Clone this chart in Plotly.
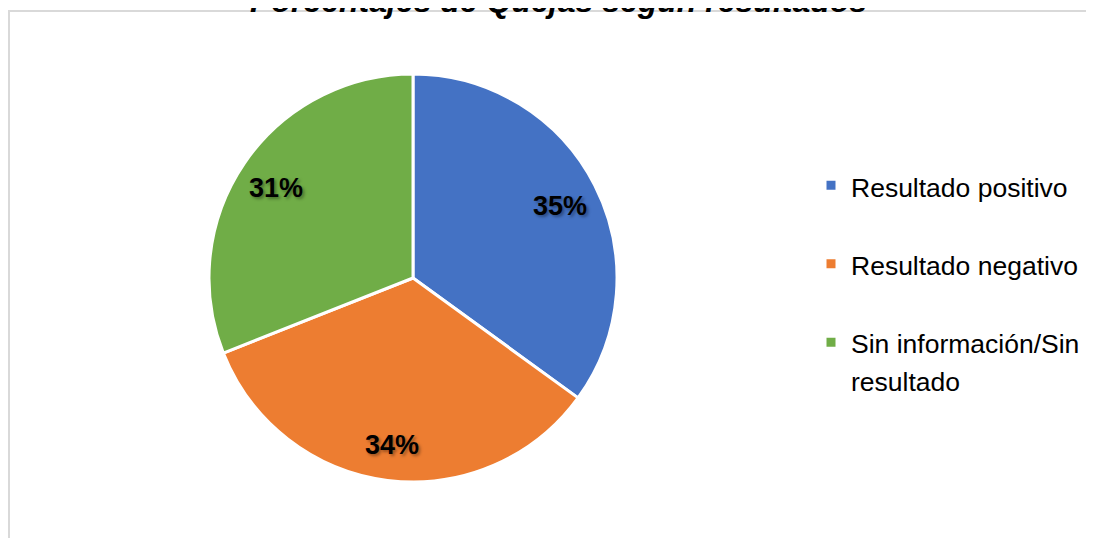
import math
import plotly.graph_objects as go

labels = ["Resultado positivo", "Resultado negativo", "Sin información/Sin<br>resultado"]
values = [35, 34, 31]
colors = ["#4472C4", "#ED7D31", "#70AD47"]
title = "Porcentajes de Quejas según resultados"

W, H = 1094, 538
cx, cy, r = 405, 270, 204   # pie centre/radius in figure pixels
font = "Liberation Sans, Arial"

# pad legend entries so the items sit further apart, like the original
legend_labels = []
for i, t in enumerate(labels):
    t = "<span style='font-size:26.5px'>" + t.replace("<br>", "</span><br><span style='font-size:26.5px'>") + "</span>"
    if i < len(labels) - 1:
        t += "<br> "
    legend_labels.append(t)

fig = go.Figure()
fig.add_trace(go.Pie(
    labels=legend_labels,
    values=values,
    sort=False,
    direction="clockwise",
    rotation=0,
    marker=dict(colors=colors, line=dict(color="white", width=3)),
    textinfo="none",
    domain=dict(x=[(cx - r) / W, (cx + r) / W], y=[1 - (cy + r) / H, 1 - (cy - r) / H]),
    hoverinfo="percent",
))

# percentage labels placed along each slice's bisector, like the Excel chart
total = sum(values)
cum = 0
for v in values:
    mid = (cum + v / 2) / total * 2 * math.pi
    cum += v
    px = cx + 0.81 * r * math.sin(mid)
    py = cy - 0.81 * r * math.cos(mid)
    fig.add_annotation(text="%d%%" % round(v / total * 100), xref="paper", yref="paper",
                       x=px / W, y=1 - py / H, xanchor="center", yanchor="middle",
                       yshift=-3, showarrow=False,
                       font=dict(family=font, size=27, color="black", weight="bold",
                                 shadow="2px 2px 3px rgba(0,0,0,0.35)"))

fig.add_shape(type="rect", xref="paper", yref="paper",
              x0=1 / W, x1=1.02, y0=-0.02, y1=1 - 3 / H,
              line=dict(color="#d9d9d9", width=2), layer="below")

fig.add_annotation(text="<b><i>" + title + "</i></b>", xref="paper", yref="paper",
                   x=550 / W, y=1, xanchor="center", yanchor="middle", yshift=7,
                   showarrow=False,
                   font=dict(family=font, size=32, color="black"))

fig.update_layout(
    width=W, height=H,
    margin=dict(l=0, r=0, t=0, b=0),
    paper_bgcolor="white",
    plot_bgcolor="white",
    showlegend=True,
    legend=dict(x=803 / W, xanchor="left", y=1 - 152 / H, yanchor="top",
                valign="top",
                font=dict(family=font, size=29, color="black")),
)

fig.write_html("out.html")
